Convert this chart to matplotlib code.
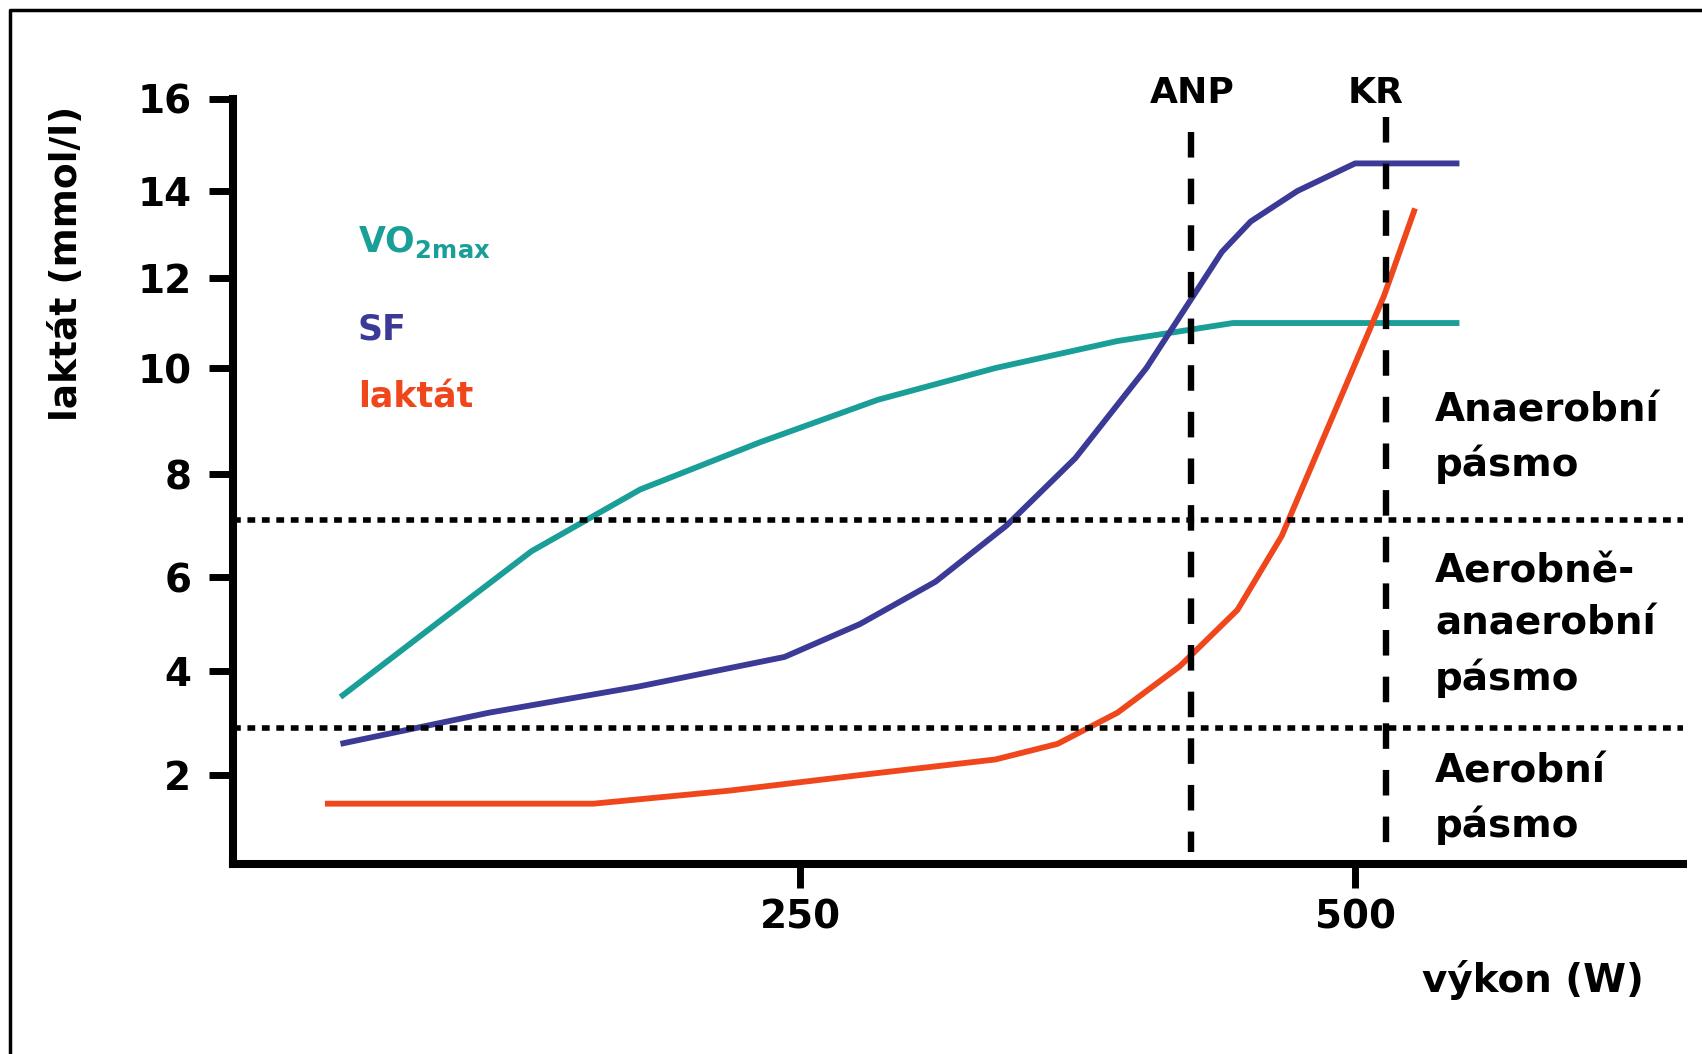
import numpy as np
import matplotlib
matplotlib.use("Agg")
import matplotlib.pyplot as plt
from matplotlib.lines import Line2D

plt.rcParams['font.family'] = ['DejaVu Sans']
plt.rcParams['font.weight'] = 'bold'
plt.rcParams['mathtext.fontset'] = 'custom'
plt.rcParams['mathtext.rm'] = 'DejaVu Sans:bold'
plt.rcParams['mathtext.bf'] = 'DejaVu Sans:bold'

# data (W, mmol/l)
vo2_x = [43, 86, 129, 178, 232, 285, 338, 393, 445, 500, 547]
vo2_y = [3.5, 5.0, 6.5, 7.7, 8.6, 9.4, 10.0, 10.6, 11.0, 11.0, 11.0]
sf_x = [43, 110, 177, 243, 277, 311, 343, 374, 406, 440, 453, 474, 500, 547]
sf_y = [2.6, 3.2, 3.7, 4.3, 5.0, 5.9, 7.0, 8.3, 10.0, 12.6, 13.3, 14.0, 14.6, 14.6]
lak_x = [36, 97, 157, 218, 277, 338, 366, 393, 421, 447, 467, 513, 527]
lak_y = [1.45, 1.45, 1.45, 1.7, 2.0, 2.3, 2.6, 3.2, 4.1, 5.3, 6.8, 11.6, 13.6]
zone_bounds = [7.1, 2.9]       # aerobni / anaerobni hranice
anp_x, kr_x = 426, 514
yticks = [2, 4, 6, 8, 10, 12, 14, 16]
xticks = [250, 500]
zone_names = ["Anaerobní\npásmo", "Aerobně-\nanaerobní\npásmo", "Aerobní\npásmo"]

# the hand drawn y axis is not evenly spaced -> piecewise scale
knot_vals = np.array([-2, 0, 2, 4, 6, 8, 10, 12, 14, 16, 18])
knot_pos = -np.array([983, 879, 775, 671, 577, 474, 368, 278, 191, 99, 7])

def fwd(v):
    return np.interp(np.asarray(v, dtype=float), knot_vals, knot_pos)

def inv(h):
    return np.interp(np.asarray(h, dtype=float), knot_pos, knot_vals)

teal = '#1a9e98'
blue = '#3b3a97'
red = '#f0461c'

W, H = 1702, 1054
fig = plt.figure(figsize=(W/100, H/100), dpi=100)
ax = fig.add_axes([233/W, 1-864/H, (1683-233)/W, (864-99)/H])
ax.set_yscale('function', functions=(fwd, inv))
ax.set_ylim(0.29, 16)
ax.set_xlim(-5.4, 647.7)

ax.plot(vo2_x, vo2_y, color=teal, lw=4.2, solid_capstyle='butt')
ax.plot(sf_x, sf_y, color=blue, lw=4.2, solid_capstyle='butt')
ax.plot(lak_x, lak_y, color=red, lw=4.2, solid_capstyle='butt')

for yb in zone_bounds:
    ax.axhline(yb, color='black', lw=4.0, linestyle=(0, (1.4, 1.2)), dash_capstyle='butt')

ax.plot([anp_x, anp_x], [15.28, 0.52], color='black', lw=4.6,
        linestyle=(0, (4.0, 3.3)), dash_capstyle='butt', clip_on=False)
ax.plot([kr_x, kr_x], [15.6, 0.29], color='black', lw=4.6,
        linestyle=(0, (4.0, 3.3)), dash_capstyle='butt', clip_on=False)

ax.spines['top'].set_visible(False)
ax.spines['right'].set_visible(False)
ax.spines['left'].set_linewidth(5.8)
ax.spines['bottom'].set_linewidth(5.8)
ax.set_yticks(yticks)
ax.set_yticklabels([str(t) for t in yticks])
ax.set_xticks(xticks)
ax.set_xticklabels([str(t) for t in xticks])
ax.minorticks_off()
ax.tick_params(axis='y', direction='out', length=17, width=5, pad=13, labelsize=28)
ax.tick_params(axis='x', direction='out', length=17, width=5, pad=8, labelsize=28)

# texts
fig.text(67/W, 1-263/H, "laktát (mmol/l)", rotation=90, ha='center', va='center', fontsize=27)
fig.text(1533/W, 1-980/H, "výkon (W)", ha='center', va='center', fontsize=28)
fig.text(1192/W, 1-93/H, "ANP", ha='center', va='center', fontsize=26)
fig.text(1376/W, 1-93/H, "KR", ha='center', va='center', fontsize=26)

fig.text(358/W, 1-252/H, r"VO$_{\mathbf{2max}}$", color=teal, ha='left', va='baseline', fontsize=25)
fig.text(358/W, 1-340/H, "SF", color=blue, ha='left', va='baseline', fontsize=25)
fig.text(358/W, 1-407/H, "laktát", color=red, ha='left', va='baseline', fontsize=25)

zone_y = [438, 625, 799]
for name, zy in zip(zone_names, zone_y):
    fig.text(1435/W, 1-zy/H, name, ha='left', va='center', fontsize=28, linespacing=1.48)

# frame around the picture (right and bottom edge cut off)
fig.add_artist(Line2D([10/W, 10/W, 1.0], [0.0, 1-10/H, 1-10/H], color='black', lw=2.5,
                      transform=fig.transFigure))

fig.savefig("out.png", dpi=100)
